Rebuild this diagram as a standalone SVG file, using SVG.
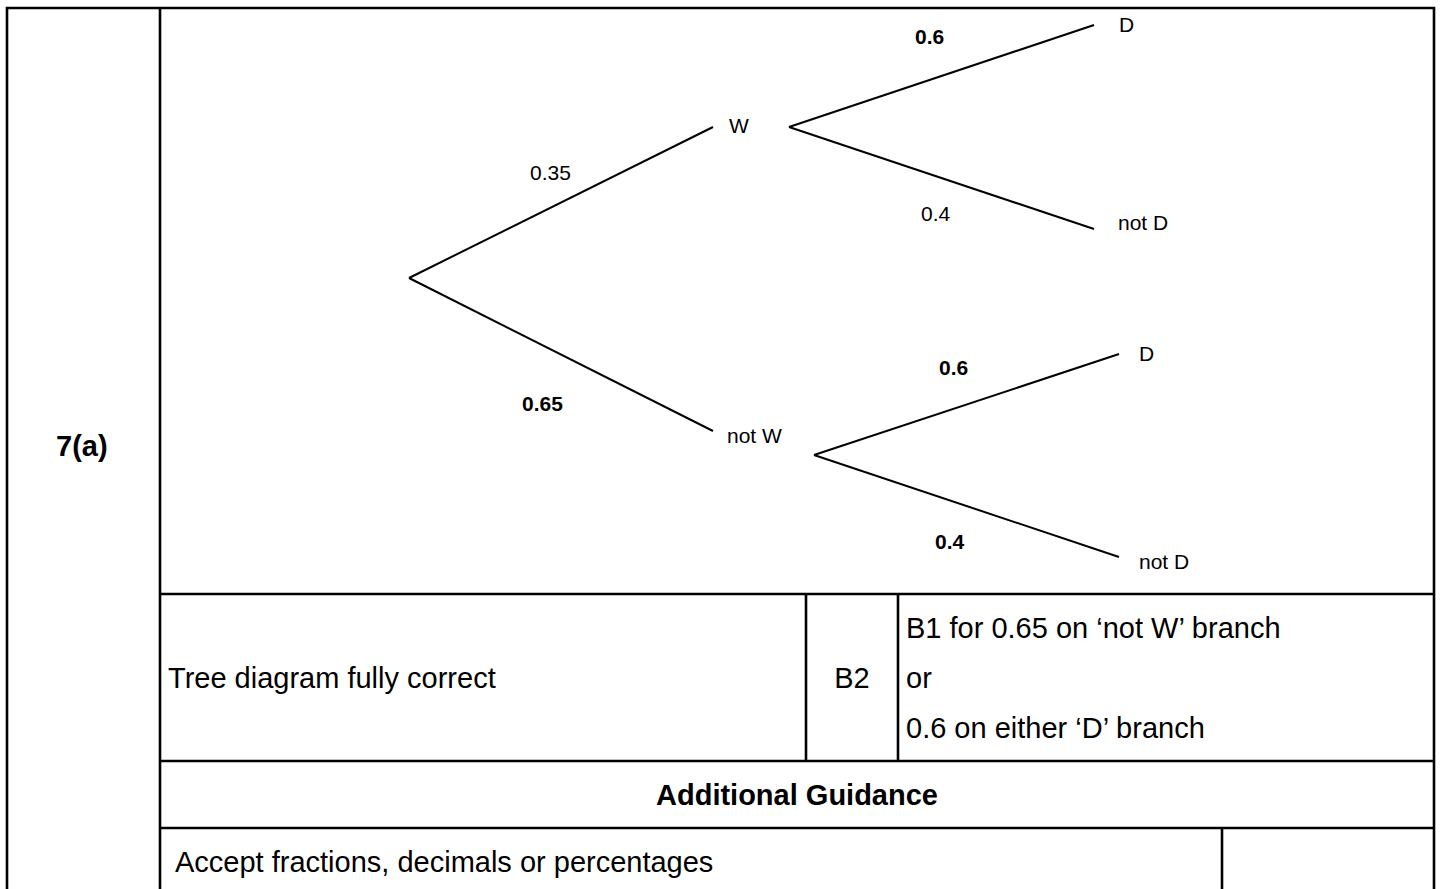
<svg xmlns="http://www.w3.org/2000/svg" width="1442" height="889" viewBox="0 0 1442 889">
<style>
.grid{stroke:#000;stroke-width:2.6;fill:none}
.br{stroke:#000;stroke-width:2;fill:none}
.t{font-family:"Liberation Sans",Arial,sans-serif;fill:#000}
.big{font-size:29px}
.sm{font-size:21px}
.b{font-weight:bold}
</style>
<rect width="1442" height="889" fill="#fff"/>
<g id="table">
<polyline class="grid" points="7,889 7,8 1434,8 1434,889"/>
<line class="grid" x1="160" y1="8" x2="160" y2="889"/>
<line class="grid" x1="160" y1="594" x2="1434" y2="594"/>
<line class="grid" x1="160" y1="761" x2="1434" y2="761"/>
<line class="grid" x1="160" y1="828" x2="1434" y2="828"/>
<line class="grid" x1="806" y1="594" x2="806" y2="761"/>
<line class="grid" x1="898" y1="594" x2="898" y2="761"/>
<line class="grid" x1="1222" y1="828" x2="1222" y2="889"/>
<text class="t big b" x="56" y="456">7(a)</text>
<text class="t big" x="168" y="688">Tree diagram fully correct</text>
<text class="t big" x="852" y="688" text-anchor="middle">B2</text>
<text class="t big" x="906" y="638">B1 for 0.65 on ‘not W’ branch</text>
<text class="t big" x="906" y="688">or</text>
<text class="t big" x="906" y="738">0.6 on either ‘D’ branch</text>
<text class="t big b" x="797" y="805" text-anchor="middle">Additional Guidance</text>
<text class="t big" x="175" y="872">Accept fractions, decimals or percentages</text>
</g>
<g id="connectors">
<line class="br" x1="409" y1="278" x2="713" y2="127"/>
<line class="br" x1="409" y1="278" x2="713" y2="431"/>
<line class="br" x1="789" y1="127" x2="1094" y2="25"/>
<line class="br" x1="789" y1="127" x2="1094" y2="229"/>
<line class="br" x1="814" y1="455" x2="1119" y2="354"/>
<line class="br" x1="814" y1="455" x2="1119" y2="557"/>
</g>
<g id="node-W"><text class="t sm" x="729" y="133">W</text></g>
<g id="node-notW"><text class="t sm" x="727" y="443">not W</text></g>
<g id="node-W-D"><text class="t sm" x="1119" y="32">D</text></g>
<g id="node-W-notD"><text class="t sm" x="1118" y="230">not D</text></g>
<g id="node-notW-D"><text class="t sm" x="1139" y="361">D</text></g>
<g id="node-notW-notD"><text class="t sm" x="1139" y="569">not D</text></g>
<g id="labels">
<text class="t sm" x="530" y="180">0.35</text>
<text class="t sm b" x="522" y="411">0.65</text>
<text class="t sm b" x="915" y="44">0.6</text>
<text class="t sm" x="921" y="221">0.4</text>
<text class="t sm b" x="939" y="375">0.6</text>
<text class="t sm b" x="935" y="549">0.4</text>
</g>
</svg>
